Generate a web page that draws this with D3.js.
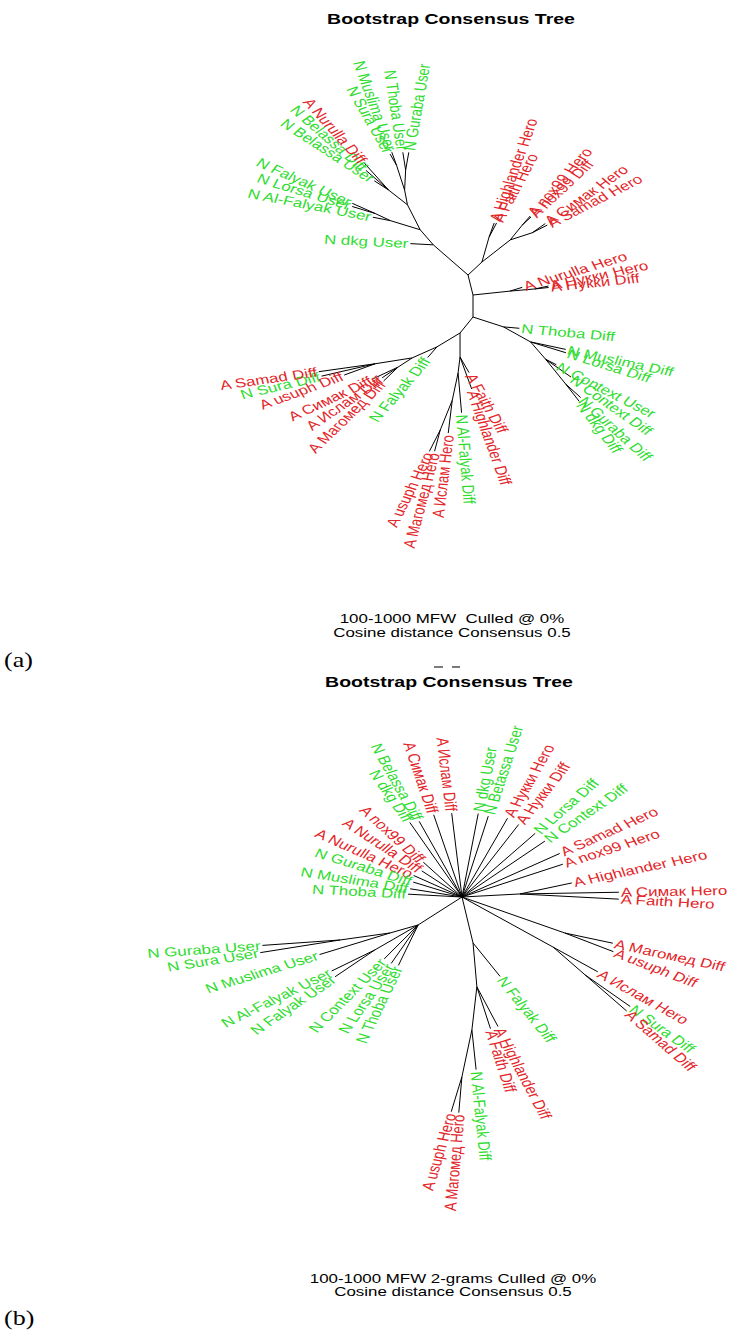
<!DOCTYPE html>
<html><head><meta charset="utf-8">
<script src="https://cdn.jsdelivr.net/npm/d3@7"></script>
<style>
body{margin:0;background:#fff}
svg text{font-family:"Liberation Sans",Arial,sans-serif;white-space:pre}
</style>
</head><body>
<svg id="chart" width="730" height="1331"></svg>
<script>
// ---------- DATA ----------
// Each edge: [node id, parent id, branch direction (deg, 0 = east, clockwise), branch length]
// Leaf ids are the tip labels ("A ..." = red group, "N ..." = green group)
const treeAEdges = [
  ["n1","root",-104,0.206],
  ["n3","root",90,0.22],
  ["nh","root",-6,0.37],
  ["A Nurulla Hero","nh",-17,0.13],
  ["nk","nh",-5,0.25],
  ["A Нукки Hero","nk",-12,0.14],
  ["A Нукки Diff","nk",-6,0.14],
  ["ur1","n1",-43,0.19],
  ["hf","ur1",-74,0.26],
  ["A Highlander Hero","hf",-70,0.15],
  ["A Faith Hero","hf",-62,0.16],
  ["ns","ur1",-38,0.36],
  ["nx","ns",-51,0.19],
  ["A nox99 Hero","nx",-49,0.12],
  ["A nox99 Diff","nx",-43,0.12],
  ["ss","ns",-18,0.23],
  ["A Симак Hero","ss",-35,0.16],
  ["A Samad Hero","ss",-27,0.17],
  ["d","n1",-139,0.46],
  ["N dkg User","d",183,0.23],
  ["ul1","d",-131,0.20],
  ["fl","ul1",-163,0.31],
  ["N Al-Falyak User","fl",191,0.18],
  ["fl2","fl",-155,0.17],
  ["N Falyak User","fl2",204,0.25],
  ["N Lorsa User","fl2",197,0.24],
  ["ul2","ul1",-117,0.28],
  ["bn","ul2",-142,0.24],
  ["N Belassa User","bn",213,0.17],
  ["N Belassa Diff","bn",221,0.30],
  ["A Nurulla Diff","bn",228,0.36],
  ["mt","ul2",-101,0.15],
  ["ms","mt",-108,0.26],
  ["N Sura User","ms",240,0.13],
  ["N Muslima User","ms",250,0.14],
  ["tg","mt",-87,0.20],
  ["N Thoba User","tg",261,0.18],
  ["N Guraba User","tg",-80,0.18],
  ["lr1","n3",18,0.32],
  ["N Thoba Diff","lr1",5,0.16],
  ["lr2","lr1",29,0.31],
  ["N Muslima Diff","lr2",12,0.36],
  ["N Lorsa Diff","lr2",17,0.37],
  ["lr3","lr2",49,0.23],
  ["N Context User","lr3",27,0.12],
  ["N Context Diff","lr3",35,0.31],
  ["lr4","lr3",51,0.32],
  ["N Guraba Diff","lr4",42,0.20],
  ["N dkg Diff","lr4",52,0.22],
  ["l1","n3",129,0.206],
  ["ll","l1",149,0.27],
  ["N Falyak Diff","ll",131,0.14],
  ["ll2","ll",156,0.27],
  ["ims","ll2",147,0.17],
  ["A Симак Diff","ims",155,0.28],
  ["A Ислам Diff","ims",146,0.19],
  ["A Магомед Diff","ims",136,0.20],
  ["uss","ll2",171,0.375],
  ["A usuph Diff","uss",160,0.33],
  ["N Sura Diff","uss",167,0.55],
  ["A Samad Diff","uss",172,0.57],
  ["l2","l1",90,0.24],
  ["A Faith Diff","l2",60,0.18],
  ["A Highlander Diff","l2",70,0.34],
  ["l3","l2",97,0.16],
  ["N Al-Falyak Diff","l3",85,0.40],
  ["l4","l3",102,0.28],
  ["A Ислам Hero","l4",97,0.33],
  ["l5","l4",112,0.32],
  ["A usuph Hero","l5",117,0.24],
  ["A Магомед Hero","l5",105,0.22]
];

const treeBEdges = [
  ["N Belassa Diff","root",240.5,0.87],
  ["N dkg Diff","root",235,0.91],
  ["A nox99 Diff","root",222,0.52],
  ["A Nurulla Diff","root",213,0.48],
  ["A Nurulla Hero","root",204,0.53],
  ["N Guraba Diff","root",197,0.51],
  ["N Muslima Diff","root",189,0.525],
  ["N Thoba Diff","root",183,0.54],
  ["A Симак Diff","root",251,0.87],
  ["A Ислам Diff","root",263,0.845],
  ["N dkg User","root",-79,0.85],
  ["N Betassa User","root",-72,0.85],
  ["A Нукки Hero","root",-60,0.91],
  ["A Нукки Diff","root",-52,0.92],
  ["N Lorsa Diff","root",-41,0.97],
  ["N Context Diff","root",-34,1.0],
  ["A Samad Hero","root",-24,1.07],
  ["A nox99 Hero","root",-18,1.06],
  ["h1","root",-3,0.58],
  ["A Highlander Hero","h1",-12,0.53],
  ["A Симак Hero","h1",-1,0.99],
  ["A Faith Hero","h1",3,0.99],
  ["r1","root",19.3,1.09],
  ["A Магомед Diff","r1",12,0.49],
  ["A usuph Diff","r1",21,0.52],
  ["r2","root",28.8,1.04],
  ["A Ислам Hero","r2",29,0.51],
  ["r3","r2",41,0.425],
  ["N Sura Diff","r3",35,0.55],
  ["A Samad Diff","r3",41,0.55],
  ["b1","root",76.5,0.473],
  ["N Falyak Diff","b1",51,0.43],
  ["b2","b1",85,0.44],
  ["A Highlander Diff","b2",62,0.45],
  ["A Faith Diff","b2",72,0.44],
  ["b3","b2",96.6,0.433],
  ["N Al-Falyak Diff","b3",84,0.40],
  ["b4","b3",102,0.48],
  ["A usuph Hero","b4",107,0.365],
  ["A Магомед Hero","b4",95,0.36],
  ["c1","root",147.5,0.52],
  ["N Context User","c1",135,0.48],
  ["N Lorsa User","c1",125,0.47],
  ["N Thoba User","c1",116,0.45],
  ["c2","c1",150,0.50],
  ["N Al-Falyak User","c2",154,0.48],
  ["N Falyak User","c2",146,0.48],
  ["c3","c1",164,0.29],
  ["N Muslima User","c3",163,0.74],
  ["c4","c3",172,0.505],
  ["N Guraba User","c4",176,0.78],
  ["N Sura User","c4",171,0.81]
];

const groups = ["A","N"];
const titles = ["Bootstrap Consensus Tree","Bootstrap Consensus Tree"];
const footerLines = [
  ["100-1000 MFW  Culled @ 0%","Cosine distance Consensus 0.5"],
  ["100-1000 MFW 2-grams Culled @ 0%","Cosine distance Consensus 0.5"]
];
const panelTags = ["(a)","(b)"];

// ---------- LAYOUT ----------
const S = 1.3; // horizontal stretch of the original figure
const svg = d3.select("#chart");
const lenScale = d3.scaleLinear().domain([0,1]).range([0,100]);
const color = d3.scaleOrdinal().domain(groups).range(["#e2262a","#2fdc2f"]);
const rad = d => d*Math.PI/180;

const panels = [
  {edges:treeAEdges, root:[473,295], titleY:24, titleX:451, footY:[623,637], footX:452, tagY:667, marks:false},
  {edges:treeBEdges, root:[462,897], titleY:687, titleX:449, footY:[1283,1296], footX:453, tagY:1325, marks:true}
];

panels.forEach((P,pi) => {
  const g = svg.append("g");
  const pos = new Map([["root",P.root]]);
  const nodes = P.edges.map(([id,parent,angle,len]) => {
    const p = pos.get(parent), L = lenScale(len), r = rad(angle);
    const q = [p[0]+L*Math.cos(r), p[1]+L*Math.sin(r)];
    pos.set(id,q);
    return {id,angle,p,q,leaf:/^[AN] /.test(id)};
  });

  g.selectAll("line.br").data(nodes).join("line")
    .attr("class","br")
    .attr("x1",d=>d.p[0]).attr("y1",d=>d.p[1])
    .attr("x2",d=>d.q[0]).attr("y2",d=>d.q[1])
    .attr("stroke","#000").attr("stroke-width",1);

  g.selectAll("text.tip").data(nodes.filter(d=>d.leaf)).join("text")
    .attr("class","tip")
    .attr("font-size",13)
    .attr("fill",d=>color(d.id[0]))
    .attr("dy","0.35em")
    .attr("text-anchor",d=>Math.cos(rad(d.angle))>=0?"start":"end")
    .attr("transform",d=>{
      const r = rad(d.angle);
      const tx = d.q[0]+2*Math.cos(r), ty = d.q[1]+2*Math.sin(r);
      let rot = Math.atan2(Math.sin(r), Math.cos(r)/S)*180/Math.PI;
      if (Math.cos(r) < 0) rot += 180;
      return `translate(${tx},${ty}) scale(${S},1) rotate(${rot})`;
    })
    .text(d=>d.id);

  g.append("text").attr("transform",`translate(${P.titleX},${P.titleY}) scale(${S},1)`)
    .attr("text-anchor","middle").attr("font-size",15).attr("font-weight","bold")
    .attr("fill","#000").text(titles[pi]);

  if (P.marks) {
    // small scan marks above the second title
    [[434,443],[452,460]].forEach(([a,b])=>{
      g.append("line").attr("x1",a).attr("x2",b).attr("y1",P.titleY-20).attr("y2",P.titleY-20)
        .attr("stroke","#222").attr("stroke-width",1.2);
    });
  }

  footerLines[pi].forEach((t,i)=>{
    g.append("text").attr("transform",`translate(${P.footX},${P.footY[i]}) scale(${S},1)`)
      .attr("text-anchor","middle").attr("font-size",13).attr("fill","#000")
      .attr("xml:space","preserve").text(t);
  });

  g.append("text").attr("transform",`translate(4,${P.tagY}) scale(${S},1)`)
    .attr("font-size",20).attr("fill","#000")
    .style("font-family","'Liberation Serif','Times New Roman',serif")
    .text(panelTags[pi]);
});
</script>
</body></html>
